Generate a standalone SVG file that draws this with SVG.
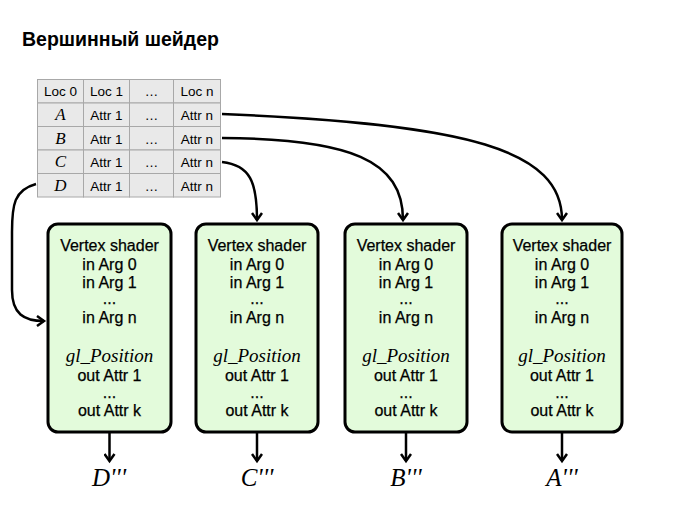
<svg xmlns="http://www.w3.org/2000/svg" width="682" height="508" viewBox="0 0 682 508">
<style>
.title{font-family:"Liberation Sans",Arial,sans-serif;font-weight:bold;font-size:19.5px;fill:#000}
.cell{fill:#e9e9e9;stroke:#a8a8a8;stroke-width:1}
.t{font-family:"Liberation Sans",Arial,sans-serif;font-size:13.5px;fill:#000;text-anchor:middle}
.ti{font-family:"Liberation Serif","Times New Roman",serif;font-style:italic;font-size:17px;fill:#000;text-anchor:middle}
.box{fill:#e3fbdb;stroke:#000;stroke-width:3}
.bt{font-family:"Liberation Sans",Arial,sans-serif;font-size:16px;fill:#000;text-anchor:middle;stroke:#000;stroke-width:0.25}
.bi{font-family:"Liberation Serif","Times New Roman",serif;font-style:italic;font-size:19px;fill:#000;text-anchor:middle}
.lbl{font-family:"Liberation Serif","Times New Roman",serif;font-style:italic;font-size:25px;fill:#000;text-anchor:middle}
.c{fill:none;stroke:#000;stroke-width:2.5;marker-end:url(#ah)}
</style>
<defs>
<marker id="ah" markerWidth="12" markerHeight="12" refX="9" refY="6" orient="auto" markerUnits="userSpaceOnUse">
<polyline points="2,1 9,6 2,11" fill="none" stroke="#000" stroke-width="2.5"/>
</marker>
</defs>
<text class="title" x="22" y="46">Вершинный шейдер</text>
<g id="table">
<rect class="cell" x="37.5" y="79.5" width="46" height="23.5"/>
<rect class="cell" x="83.5" y="79.5" width="46" height="23.5"/>
<rect class="cell" x="129.5" y="79.5" width="44" height="23.5"/>
<rect class="cell" x="173.5" y="79.5" width="47" height="23.5"/>
<rect class="cell" x="37.5" y="103" width="46" height="23.5"/>
<rect class="cell" x="83.5" y="103" width="46" height="23.5"/>
<rect class="cell" x="129.5" y="103" width="44" height="23.5"/>
<rect class="cell" x="173.5" y="103" width="47" height="23.5"/>
<rect class="cell" x="37.5" y="126.5" width="46" height="23.5"/>
<rect class="cell" x="83.5" y="126.5" width="46" height="23.5"/>
<rect class="cell" x="129.5" y="126.5" width="44" height="23.5"/>
<rect class="cell" x="173.5" y="126.5" width="47" height="23.5"/>
<rect class="cell" x="37.5" y="150" width="46" height="23.5"/>
<rect class="cell" x="83.5" y="150" width="46" height="23.5"/>
<rect class="cell" x="129.5" y="150" width="44" height="23.5"/>
<rect class="cell" x="173.5" y="150" width="47" height="23.5"/>
<rect class="cell" x="37.5" y="173.5" width="46" height="23.5"/>
<rect class="cell" x="83.5" y="173.5" width="46" height="23.5"/>
<rect class="cell" x="129.5" y="173.5" width="44" height="23.5"/>
<rect class="cell" x="173.5" y="173.5" width="47" height="23.5"/>
<text class="t" x="60.5" y="96">Loc 0</text>
<text class="t" x="106.5" y="96">Loc 1</text>
<text class="t" x="151.5" y="96">…</text>
<text class="t" x="197" y="96">Loc n</text>
<text class="ti" x="60.5" y="120">A</text>
<text class="t" x="106.5" y="120">Attr 1</text>
<text class="t" x="151.5" y="120">…</text>
<text class="t" x="197" y="120">Attr n</text>
<text class="ti" x="60.5" y="143.5">B</text>
<text class="t" x="106.5" y="143.5">Attr 1</text>
<text class="t" x="151.5" y="143.5">…</text>
<text class="t" x="197" y="143.5">Attr n</text>
<text class="ti" x="60.5" y="167">C</text>
<text class="t" x="106.5" y="167">Attr 1</text>
<text class="t" x="151.5" y="167">…</text>
<text class="t" x="197" y="167">Attr n</text>
<text class="ti" x="60.5" y="190.5">D</text>
<text class="t" x="106.5" y="190.5">Attr 1</text>
<text class="t" x="151.5" y="190.5">…</text>
<text class="t" x="197" y="190.5">Attr n</text>
</g>
<g id="shader1">
<rect class="box" x="48" y="224" width="123" height="208" rx="10"/>
<text class="bt" x="109.5" y="251">Vertex shader</text>
<text class="bt" x="109.5" y="270">in Arg 0</text>
<text class="bt" x="109.5" y="288">in Arg 1</text>
<text class="bt" x="109.5" y="304">...</text>
<text class="bt" x="109.5" y="323">in Arg n</text>
<text class="bi" x="109.5" y="362">gl_Position</text>
<text class="bt" x="109.5" y="381">out Attr 1</text>
<text class="bt" x="109.5" y="398">...</text>
<text class="bt" x="109.5" y="416">out Attr k</text>
</g>
<g id="shader2">
<rect class="box" x="196" y="224" width="122" height="208" rx="10"/>
<text class="bt" x="257" y="251">Vertex shader</text>
<text class="bt" x="257" y="270">in Arg 0</text>
<text class="bt" x="257" y="288">in Arg 1</text>
<text class="bt" x="257" y="304">...</text>
<text class="bt" x="257" y="323">in Arg n</text>
<text class="bi" x="257" y="362">gl_Position</text>
<text class="bt" x="257" y="381">out Attr 1</text>
<text class="bt" x="257" y="398">...</text>
<text class="bt" x="257" y="416">out Attr k</text>
</g>
<g id="shader3">
<rect class="box" x="345" y="224" width="122" height="208" rx="10"/>
<text class="bt" x="406" y="251">Vertex shader</text>
<text class="bt" x="406" y="270">in Arg 0</text>
<text class="bt" x="406" y="288">in Arg 1</text>
<text class="bt" x="406" y="304">...</text>
<text class="bt" x="406" y="323">in Arg n</text>
<text class="bi" x="406" y="362">gl_Position</text>
<text class="bt" x="406" y="381">out Attr 1</text>
<text class="bt" x="406" y="398">...</text>
<text class="bt" x="406" y="416">out Attr k</text>
</g>
<g id="shader4">
<rect class="box" x="502" y="224" width="120" height="208" rx="10"/>
<text class="bt" x="562" y="251">Vertex shader</text>
<text class="bt" x="562" y="270">in Arg 0</text>
<text class="bt" x="562" y="288">in Arg 1</text>
<text class="bt" x="562" y="304">...</text>
<text class="bt" x="562" y="323">in Arg n</text>
<text class="bi" x="562" y="362">gl_Position</text>
<text class="bt" x="562" y="381">out Attr 1</text>
<text class="bt" x="562" y="398">...</text>
<text class="bt" x="562" y="416">out Attr k</text>
</g>
<g id="outD"><text class="lbl" x="109" y="486">D'''</text></g>
<g id="outC"><text class="lbl" x="257" y="486">C'''</text></g>
<g id="outB"><text class="lbl" x="406" y="486">B'''</text></g>
<g id="outA"><text class="lbl" x="562" y="486">A'''</text></g>
<g id="connectors">
<path class="c" d="M222,114 C470,124 562,150 562,220"/>
<path class="c" d="M222,138 C350,139 403,160 403,220"/>
<path class="c" d="M222,162 C250,165 257,182 257,220"/>
<path class="c" d="M36,184 C14,190 12,205 12,232 L12,290 C12,314 24,321 44,321"/>
<path class="c" d="M109.5,433 L109.5,461"/>
<path class="c" d="M257,433 L257,461"/>
<path class="c" d="M406,433 L406,461"/>
<path class="c" d="M562,433 L562,461"/>
</g>
</svg>
